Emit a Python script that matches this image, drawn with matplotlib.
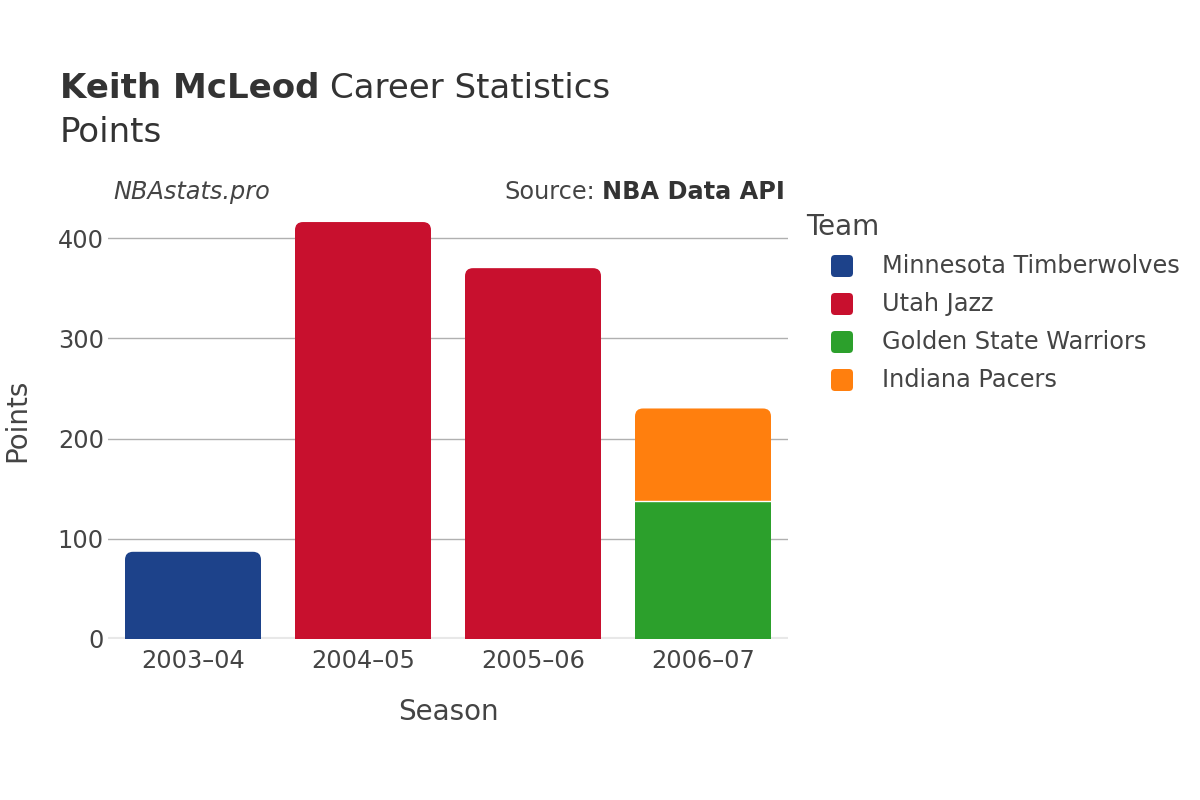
import matplotlib.pyplot as plt
from matplotlib.patches import FancyBboxPatch, Rectangle
from matplotlib.transforms import IdentityTransform

plt.rcParams["font.family"] = ["DejaVu Sans"]

seasons = ["2003–04", "2004–05", "2005–06", "2006–07"]
teams = ["Minnesota Timberwolves", "Utah Jazz", "Golden State Warriors", "Indiana Pacers"]
colors = ["#1d428a", "#c8102e", "#2ca02c", "#ff7f0e"]
# points per team per season (stacked)
minnesota = [87, 0, 0, 0]
utah = [0, 416, 370, 0]
golden_state = [0, 0, 0, 138]
indiana = [0, 0, 0, 92]
series = [minnesota, utah, golden_state, indiana]

W, H = 1200, 800
fig = plt.figure(figsize=(12, 8), dpi=100)
ax = fig.add_axes([108 / W, 1 - 639 / H, 680 / W, 438 / H])

ax.set_xlim(-0.5, 3.5)
ax.set_ylim(0, 437)

# pixel scale used to keep rounded corners circular
px_x = 680 / 4.0
px_y = 438 / 437.0
radius_px = 8
width = 0.8

bottoms = [0] * len(seasons)
tops = [sum(v[i] for v in series) for i in range(len(seasons))]
for vals, col in zip(series, colors):
    for i, v in enumerate(vals):
        if v <= 0:
            continue
        b = bottoms[i]
        x0 = i - width / 2
        if (b + v) >= tops[i]:
            ry = radius_px / px_y
            rx = radius_px / px_x
            ax.add_patch(Rectangle((x0, b), width, max(v - ry, 0), facecolor=col,
                                   edgecolor="none", zorder=3))
            ax.add_patch(FancyBboxPatch((x0, b), width, v,
                                        boxstyle="round,pad=0,rounding_size=%f" % rx,
                                        mutation_aspect=px_x / px_y,
                                        facecolor=col, edgecolor="none", zorder=3))
        else:
            ax.add_patch(Rectangle((x0, b), width, v, facecolor=col,
                                   edgecolor="none", zorder=3))
        if b > 0:
            ax.plot([x0, x0 + width], [b, b], color="white", lw=1, zorder=4)
        bottoms[i] = b + v

ax.set_yticks([0, 100, 200, 300, 400])
ax.set_xticks(range(len(seasons)))
ax.set_xticklabels(seasons)
ax.tick_params(axis="x", length=0, labelsize=17.3, colors="#444444", pad=7)
ax.tick_params(axis="y", length=0, labelsize=17.3, colors="#444444", pad=3)
ax.grid(axis="y", color="#b0b0b0", lw=1, zorder=0)
ax.axhline(0, color="#e8e8e8", lw=3, zorder=2)
for s in ax.spines.values():
    s.set_visible(False)

ax.set_xlabel("Season", fontsize=20, color="#444444", va="center")
ax.xaxis.set_label_coords(0.5, (639 - 712) / 438)
ax.set_ylabel("Points", fontsize=20, color="#444444", va="center")
ax.yaxis.set_label_coords((17 - 108) / 680, (639 - 420) / 438)

fig.canvas.draw()
r = fig.canvas.get_renderer()

t1 = fig.text(60 / W, 1 - 88 / H, "Keith McLeod", fontsize=24.5, fontweight="bold",
              color="#333333", va="center")
bb = t1.get_window_extent(r)
fig.text((bb.x1 + 10) / W, 1 - 88 / H, "Career Statistics", fontsize=24.5,
         color="#333333", va="center")
fig.text(60 / W, 1 - 132 / H, "Points", fontsize=24.5, color="#333333", va="center")

fig.text(113 / W, 1 - 192 / H, "NBAstats.pro", fontsize=17.3, style="italic",
         color="#444444", va="center")
t2 = fig.text(785 / W, 1 - 192 / H, "NBA Data API", fontsize=17.3, fontweight="bold",
              color="#333333", va="center", ha="right")
bb = t2.get_window_extent(r)
fig.text((bb.x0 - 7) / W, 1 - 192 / H, "Source:", fontsize=17.3, color="#444444",
         va="center", ha="right")

# legend
fig.text(806 / W, 1 - 227 / H, "Team", fontsize=20, color="#444444", va="center")
for k, (team, col) in enumerate(zip(teams, colors)):
    yc = 266 + 38 * k
    fig.patches.append(FancyBboxPatch((831, H - yc - 11), 22, 22,
                                      boxstyle="round,pad=0,rounding_size=4",
                                      facecolor=col, edgecolor="none",
                                      transform=IdentityTransform(), figure=fig))
    fig.text(882 / W, 1 - yc / H, team, fontsize=17.3, color="#444444", va="center")

fig.savefig("out.png", dpi=100)
